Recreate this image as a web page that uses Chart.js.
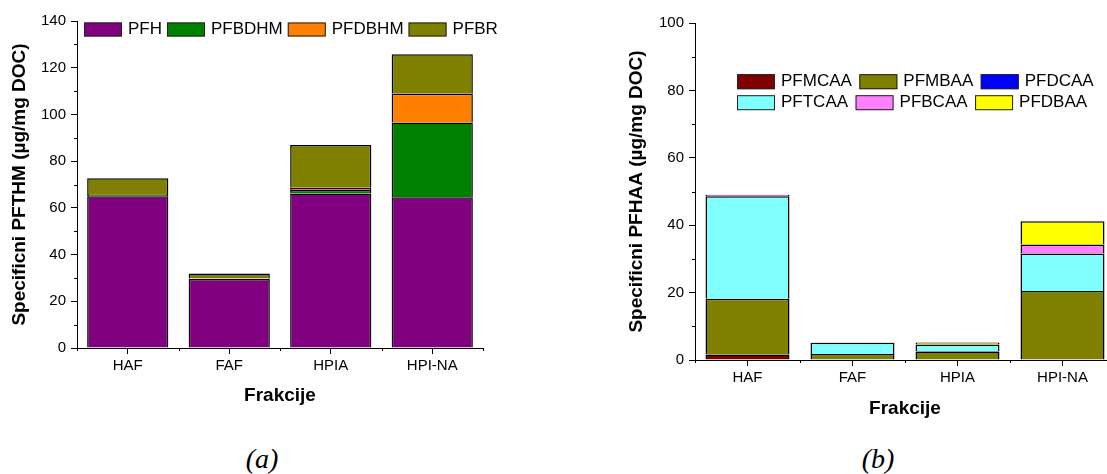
<!DOCTYPE html>
<html>
<head>
<meta charset="utf-8">
<script src="https://cdn.jsdelivr.net/npm/chart.js@4.4.1/dist/chart.umd.min.js"></script>
<style>
html, body { margin: 0; padding: 0; background: #fff; overflow: hidden; }
#wrap { position: relative; width: 1107px; height: 474px; overflow: hidden; }
#chartA { position: absolute; left: 0; top: 0; }
#chartB { position: absolute; left: 553px; top: 0; }
.cap { position: absolute; top: 445px; width: 80px; text-align: center;
       font: italic 28px "Liberation Serif", "Times New Roman", serif; line-height: 28px; }
</style>
</head>
<body>
<div id="wrap">
  <canvas id="chartA" width="553" height="420"></canvas>
  <canvas id="chartB" width="562" height="420"></canvas>
  <div class="cap" style="left:222px">(a)</div>
  <div class="cap" style="left:838px">(b)</div>
</div>
<script>
const categories = ['HAF', 'FAF', 'HPIA', 'HPI-NA'];

// (a) specific PFTHM
const pfh    = [65.0, 29.5, 66.2, 64.5];
const pfbdhm = [0.5, 0.2, 1.4, 32.0];
const pfdbhm = [0.4, 0.1, 1.0, 12.3];
const pfbr   = [6.8, 2.1, 18.3, 17.0];

// (b) specific PFHAA
const pfmcaa = [1.6, 0, 0, 0];
const pfmbaa = [16.6, 1.8, 2.5, 20.5];
const pfdcaa = [0, 0, 0.2, 0];
const pftcaa = [30.4, 3.3, 1.9, 11.1];
const pfbcaa = [0.4, 0, 0, 2.7];
const pfdbaa = [0, 0.1, 0.6, 6.9];

const FONT = 'Arial, "Liberation Sans", sans-serif';

// short ticks between the labelled ones, like the Origin plot
const minorTicks = {
    id: 'minorTicks',
    afterDraw(chart) {
        const ctx = chart.ctx;
        const x = chart.scales.x, y = chart.scales.y;
        ctx.save();
        ctx.strokeStyle = '#000';
        ctx.lineWidth = 1;
        ctx.beginPath();
        for (let v = 10; v < y.max; v += 20) {
            const py = Math.round(y.getPixelForValue(v)) + 0.5;
            ctx.moveTo(y.right - 3, py);
            ctx.lineTo(y.right, py);
        }
        const step = x.getPixelForValue(1) - x.getPixelForValue(0);
        for (let i = 0; i <= categories.length; i++) {
            const px = Math.round(x.getPixelForValue(0) - step / 2 + i * step) + 0.5;
            ctx.moveTo(px, x.top);
            ctx.lineTo(px, x.top + 3);
        }
        ctx.stroke();
        ctx.restore();
    }
};

// legend drawn inside the plot area
const boxLegend = {
    id: 'boxLegend',
    afterDraw(chart, args, opts) {
        const ctx = chart.ctx;
        ctx.save();
        ctx.font = '17px ' + FONT;
        ctx.textBaseline = 'middle';
        opts.rows.forEach((row, r) => {
            let x = opts.x;
            const cy = opts.y + r * opts.rowGap;
            row.forEach(i => {
                const ds = chart.data.datasets[i];
                ctx.fillStyle = ds.backgroundColor;
                ctx.fillRect(x, cy - opts.boxH / 2, opts.boxW, opts.boxH);
                ctx.strokeStyle = '#222';
                ctx.lineWidth = 1;
                ctx.strokeRect(x + 0.5, cy - opts.boxH / 2 + 0.5, opts.boxW - 1, opts.boxH - 1);
                x += opts.boxW + 6;
                ctx.fillStyle = '#000';
                ctx.fillText(ds.label, x, cy);
                x += ctx.measureText(ds.label).width + opts.gap;
            });
        });
        ctx.restore();
    }
};

function makeDataset(label, data, color) {
    return {
        label: label,
        data: data,
        backgroundColor: color,
        borderColor: '#000',
        borderWidth: 1.5,
        barPercentage: 0.8,
        categoryPercentage: 1.0
    };
}

function makeOptions(cfg) {
    return {
        responsive: false,
        animation: false,
        devicePixelRatio: 1,
        layout: { padding: { top: cfg.top, right: cfg.right, left: 0, bottom: 0 } },
        plugins: {
            legend: { display: false },
            tooltip: { enabled: false },
            boxLegend: cfg.legend
        },
        scales: {
            x: {
                stacked: true,
                grid: { drawOnChartArea: false, drawTicks: true, tickLength: 6, color: '#000', offset: false },
                border: { display: true, color: '#000', width: 1 },
                ticks: { color: '#000', font: { family: FONT, size: 15 }, padding: 3, maxRotation: 0 },
                title: {
                    display: true, text: 'Frakcije', color: '#000',
                    font: { family: FONT, size: 19, weight: 'bold' },
                    padding: { top: 0, bottom: cfg.xTitlePad }
                },
                afterFit: s => { s.height = cfg.xHeight; }
            },
            y: {
                stacked: true,
                min: 0,
                max: cfg.yMax,
                grid: { drawOnChartArea: false, drawTicks: true, tickLength: 6, color: '#000' },
                border: { display: true, color: '#000', width: 1 },
                ticks: { stepSize: 20, color: '#000', font: { family: FONT, size: 15 }, padding: 5 },
                title: {
                    display: true, text: cfg.yTitle, color: '#000',
                    font: { family: FONT, size: 19, weight: 'bold' },
                    padding: { top: cfg.yTitlePad, bottom: 0 }
                },
                afterFit: s => { s.width = cfg.yWidth; }
            }
        }
    };
}

new Chart(document.getElementById('chartA'), {
    type: 'bar',
    data: {
        labels: categories,
        datasets: [
            makeDataset('PFH', pfh, '#800080'),
            makeDataset('PFBDHM', pfbdhm, '#008000'),
            makeDataset('PFDBHM', pfdbhm, '#FF8000'),
            makeDataset('PFBR', pfbr, '#808000')
        ]
    },
    options: makeOptions({
        top: 21, right: 70, yMax: 140,
        yTitle: 'Specificni PFTHM (µg/mg DOC)',
        yWidth: 77, yTitlePad: 8.6,
        xHeight: 72, xTitlePad: 13,
        legend: { x: 84, y: 29.5, rowGap: 21, boxW: 38, boxH: 14, gap: 5, rows: [[0, 1, 2, 3]] }
    }),
    plugins: [minorTicks, boxLegend]
});

new Chart(document.getElementById('chartB'), {
    type: 'bar',
    data: {
        labels: categories,
        datasets: [
            makeDataset('PFMCAA', pfmcaa, '#800000'),
            makeDataset('PFMBAA', pfmbaa, '#808000'),
            makeDataset('PFDCAA', pfdcaa, '#0000FF'),
            makeDataset('PFTCAA', pftcaa, '#80FFFF'),
            makeDataset('PFBCAA', pfbcaa, '#FF80FF'),
            makeDataset('PFDBAA', pfdbaa, '#FFFF00')
        ]
    },
    options: makeOptions({
        top: 23, right: 0, yMax: 100,
        yTitle: 'Specificni PFHAA (µg/mg DOC)',
        yWidth: 142, yTitlePad: 72.4,
        xHeight: 60, xTitlePad: 0.3,
        legend: { x: 184, y: 81.7, rowGap: 21, boxW: 38, boxH: 15, gap: 7.5, rows: [[0, 1, 2], [3, 4, 5]] }
    }),
    plugins: [minorTicks, boxLegend]
});
</script>
</body>
</html>
